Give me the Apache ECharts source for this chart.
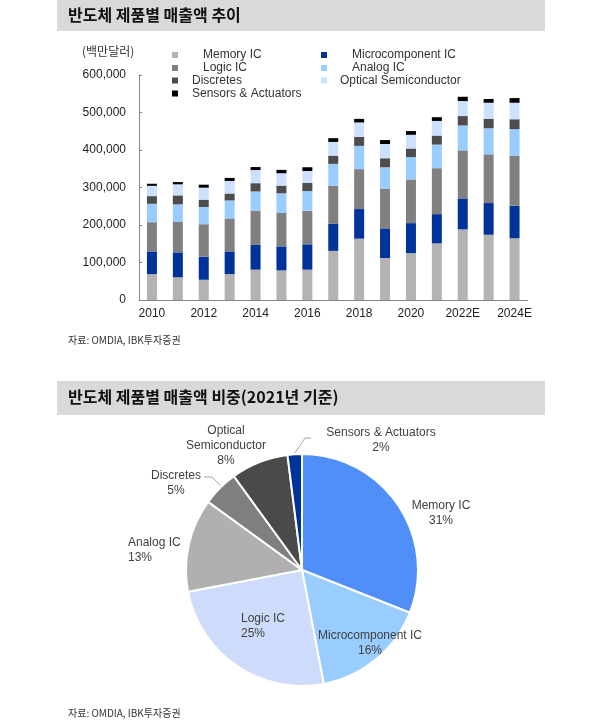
<!DOCTYPE html>
<html>
<head>
<meta charset="utf-8">
<script src="https://cdn.jsdelivr.net/npm/echarts@6/dist/echarts.min.js"></script>
<style>
html,body{margin:0;padding:0;background:#fff;}
#chart{width:600px;height:725px;}
</style>
</head>
<body>
<div id="chart"></div>
<script>
// ---- Data ----
const years = ['2010','2011','2012','2013','2014','2015','2016','2017','2018','2019','2020','2021','2022E','2023E','2024E'];
const yTicks = [0, 100000, 200000, 300000, 400000, 500000, 600000];
const memoryIC      = [69000, 60500, 54000, 69000, 81000, 79000, 81000, 131000, 163500, 112000, 125000, 151000, 188500, 174000, 164500];
const microIC       = [60500, 66500, 61500, 60500, 66000, 64000, 67500, 73000, 79000, 79000, 80000, 78000, 82500, 84500, 87000];
const logicIC       = [78000, 81000, 86500, 88000, 91500, 89000, 89500, 100500, 106500, 105000, 116500, 122500, 128000, 130000, 133500];
const analogIC      = [49000, 47000, 46000, 48000, 51000, 52500, 52500, 58500, 62000, 58000, 59500, 63000, 66500, 69500, 70500];
const discretes     = [20500, 24000, 19500, 18500, 22000, 20500, 21500, 22000, 24000, 24000, 23000, 24000, 25000, 25500, 26500];
const opticalSemi   = [27500, 29500, 32000, 33500, 35000, 33000, 32000, 36500, 38500, 38000, 36500, 39000, 40000, 42500, 44000];
const sensorsAct    = [5500, 6000, 8000, 8000, 8000, 9000, 10000, 10000, 9500, 10500, 10000, 10000, 11500, 10000, 12500];

const pieNames  = ['Memory IC','Microcomponent IC','Logic IC','Analog IC','Discretes','Optical Semiconductor','Sensors & Actuators'];
const pieShares = [31, 16, 25, 13, 5, 8, 2];

// ---- Styles ----
const FONT = "'Liberation Sans', Arial, 'Noto Sans CJK KR', sans-serif";
const KFONT = "'Noto Sans CJK KR', 'Liberation Sans', sans-serif";
const barSeriesDef = [
  {name:'Memory IC', data:memoryIC, color:'#b3b3b3'},
  {name:'Microcomponent IC', data:microIC, color:'#003399'},
  {name:'Logic IC', data:logicIC, color:'#808080'},
  {name:'Analog IC', data:analogIC, color:'#99ccff'},
  {name:'Discretes', data:discretes, color:'#4d4d4d'},
  {name:'Optical Semiconductor', data:opticalSemi, color:'#cce0ff'},
  {name:'Sensors & Actuators', data:sensorsAct, color:'#000000'}
];
const pieColors = ['#4f8ff7','#99ccff','#cddcfa','#b0b0b0','#7f7f7f','#4a4a4a','#003399'];

// legend layout: [name, left, top, textPadLeft]
const legendLayout = [
  ['Memory IC', 172, 49, 20],
  ['Logic IC', 172, 62, 20],
  ['Discretes', 172, 74.5, 9],
  ['Sensors & Actuators', 172, 87.5, 9],
  ['Microcomponent IC', 321, 49, 20],
  ['Analog IC', 321, 62, 20],
  ['Optical Semiconductor', 321, 74.5, 8]
];

// pie label layout (relative to pie centre)
const PIE_CX = 302, PIE_CY = 570, PIE_R = 116;
const pieLabelLayout = [
  {dx: 139, dy: -57, align:'center'},
  {dx: 68, dy: 73, align:'center'},
  {dx: -61, dy: 56, align:'left'},
  {dx: -174, dy: -20, align:'left'},
  {dx: -126, dy: -87, align:'center', line:[[-82,-85],[-90,-93],[-98,-93]]},
  {dx: -76, dy: -124, align:'center'},
  {dx: 79, dy: -130, align:'center', line:[[-7,-117],[3,-132],[9,-132]]}
];

const chart = echarts.init(document.getElementById('chart'), null, {renderer:'canvas'});

const option = {
  backgroundColor:'#fff',
  animation:false,
  textStyle:{fontFamily:FONT},
  graphic:[
    {type:'rect', shape:{x:57, y:0, width:488, height:31}, style:{fill:'#d9d9d9'}},
    {type:'text', left:68, top:7, style:{text:'반도체 제품별 매출액 추이', font:"bold 16px "+KFONT, fill:'#111'}},
    {type:'rect', shape:{x:57, y:381, width:488, height:34}, style:{fill:'#d9d9d9'}},
    {type:'text', left:68, top:389, style:{text:'반도체 제품별 매출액 비중(2021년 기준)', font:"bold 16px "+KFONT, fill:'#111'}},
    {type:'text', left:82, top:45, style:{text:'(백만달러)', font:"12px "+KFONT, fill:'#333'}},
    {type:'text', left:68, top:335, style:{text:'자료: OMDIA, IBK투자증권', font:"10px "+KFONT, fill:'#333'}},
    {type:'text', left:68, top:708, style:{text:'자료: OMDIA, IBK투자증권', font:"10px "+KFONT, fill:'#333'}}
  ],
  legend: legendLayout.map(l => ({
    data:[{name:l[0], icon:'rect'}],
    left:l[1], top:l[2], padding:0,
    itemWidth:6, itemHeight:6,
    selectedMode:false,
    textStyle:{fontSize:12, color:'#333', fontFamily:FONT, padding:[0,0,0,l[3]]}
  })),
  grid:{left:139, right:72.5, top:75, height:225},
  xAxis:{
    type:'category', data:years,
    axisLine:{lineStyle:{color:'#888'}},
    axisTick:{inside:true, length:3, alignWithLabel:false, lineStyle:{color:'#888'}},
    axisLabel:{interval:1, color:'#222', fontSize:12, margin:8, fontFamily:FONT}
  },
  yAxis:{
    type:'value', min:yTicks[0], max:yTicks[yTicks.length-1], interval:yTicks[1]-yTicks[0],
    splitLine:{show:false},
    axisLine:{show:true, lineStyle:{color:'#888'}},
    axisTick:{show:true, inside:true, length:3, lineStyle:{color:'#888'}},
    axisLabel:{color:'#222', fontSize:12, margin:13, fontFamily:FONT,
      formatter:v => v.toLocaleString('en-US')}
  },
  series:[
    ...barSeriesDef.map(s => ({
      type:'bar', name:s.name, stack:'total', data:s.data, barWidth:10,
      itemStyle:{color:s.color}
    })),
    {
      type:'pie', name:'share', center:[PIE_CX, PIE_CY], radius:PIE_R,
      startAngle:90, clockwise:true, legendHoverLink:false,
      itemStyle:{borderColor:'#fff', borderWidth:2},
      data: pieNames.map((n,i)=>({name:n, value:pieShares[i], itemStyle:{color:pieColors[i]},
        labelLine:{show: !!pieLabelLayout[i].line}})),
      label:{show:true, position:'outside', color:'#404040', fontSize:12, lineHeight:15, fontFamily:FONT,
        formatter: p => p.name.replace('Optical Semiconductor','Optical\nSemiconductor') + '\n' + p.value + '%'},
      labelLine:{show:true, lineStyle:{color:'#a6a6a6', width:1}},
      labelLayout: function(params){
        const L = pieLabelLayout[params.dataIndex];
        const res = {x: PIE_CX + L.dx, y: PIE_CY + L.dy, align: L.align, verticalAlign:'middle'};
        if (L.line) res.labelLinePoints = L.line.map(p => [PIE_CX + p[0], PIE_CY + p[1]]);
        return res;
      }
    }
  ]
};
chart.setOption(option);
</script>
</body>
</html>
